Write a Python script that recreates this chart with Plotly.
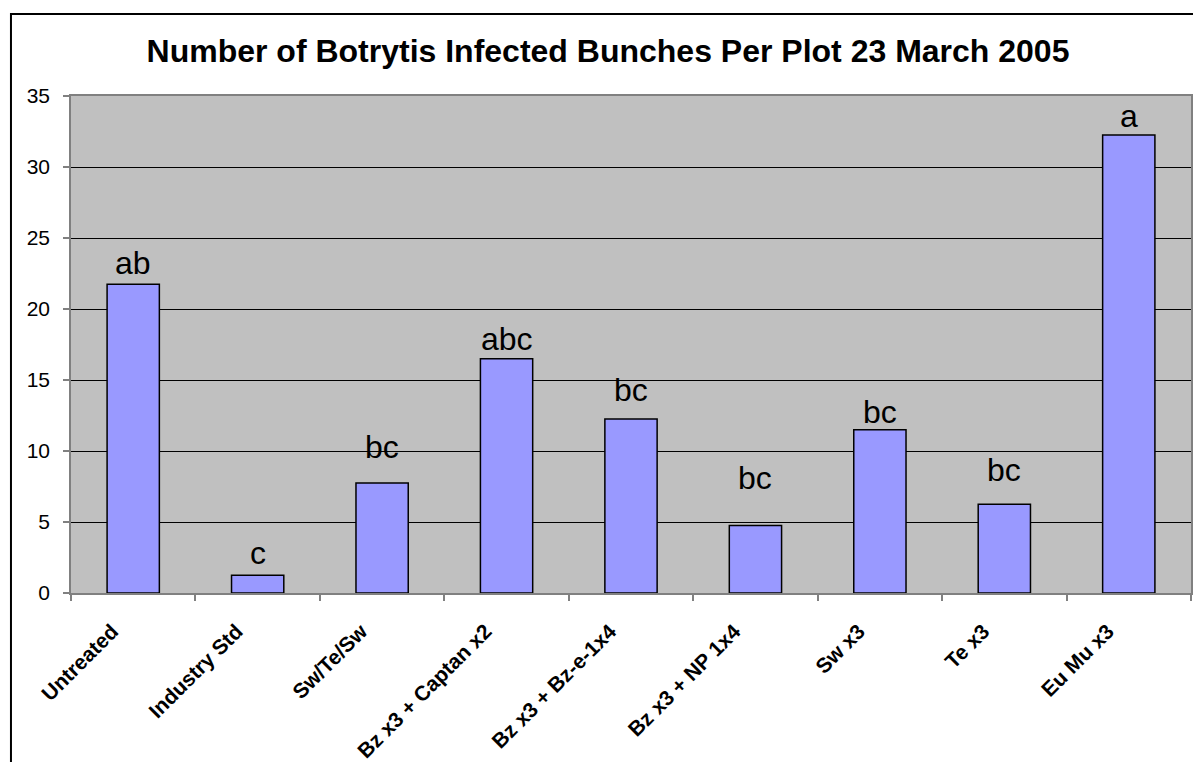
import plotly.graph_objects as go

categories = ["Untreated", "Industry Std", "Sw/Te/Sw", "Bz x3 + Captan x2",
              "Bz x3 + Bz-e-1x4", "Bz x3 + NP 1x4", "Sw x3", "Te x3", "Eu Mu x3"]
infected_bunches = [21.75, 1.25, 7.75, 16.5, 12.25, 4.75, 11.5, 6.25, 32.25]
significance = ["ab", "c", "bc", "abc", "bc", "bc", "bc", "bc", "a"]
label_heights = [22.4, 1.97, 9.44, 17.04, 13.45, 7.25, 11.9, 7.8, 32.75]
y_ticks = [0, 5, 10, 15, 20, 25, 30, 35]

FONT = "Liberation Sans, Arial, sans-serif"

fig = go.Figure()
fig.add_trace(go.Bar(
    x=categories, y=infected_bunches,
    marker=dict(color="#9999FF", line=dict(color="#000000", width=1.5)),
    width=0.42, hoverinfo="x+y",
))

for cat, txt, h in zip(categories, significance, label_heights):
    fig.add_annotation(x=cat, y=h, text=txt, showarrow=False,
                       xref="x", yref="y", yanchor="bottom", yshift=-8,
                       font=dict(family=FONT, size=32, color="#000000"))

# outer chart frame (extends beyond the visible page, as in the reference)
fig.add_shape(type="rect", xref="paper", yref="paper",
              x0=-0.0536, x1=1.02, y0=-0.40, y1=1.165,
              line=dict(color="#000000", width=2), layer="below")

fig.update_layout(
    width=1193, height=762, autosize=False,
    margin=dict(l=71, r=2, t=96, b=169),
    paper_bgcolor="#FFFFFF", plot_bgcolor="#C0C0C0",
    showlegend=False,
    title=dict(text="<b>Number of Botrytis Infected Bunches Per Plot 23 March 2005</b>",
               x=608 / 1193, xanchor="center", y=1 - 51 / 762, yanchor="middle",
               font=dict(family=FONT, size=32, color="#000000")),
    font=dict(family=FONT, color="#000000"),
)
fig.update_xaxes(
    type="category", tickangle=-45, ticks="outside", tickson="boundaries",
    ticklen=6, tickcolor="#808080", tickwidth=1.5, automargin=False,
    showline=True, linecolor="#808080", linewidth=1.5, mirror=True,
    showgrid=False, range=[-0.5, 8.5],
    ticklabelstandoff=16, ticklabelshift=-21,
    tickfont=dict(family=FONT, size=21, color="#000000", weight="bold"),
)
fig.update_yaxes(
    range=[0, 35], tickvals=y_ticks, ticks="outside", ticklen=6,
    tickcolor="#808080", tickwidth=1.5, automargin=False,
    showline=True, linecolor="#808080", linewidth=1.5, mirror=True,
    showgrid=True, gridcolor="#000000", gridwidth=1, zeroline=False,
    ticklabelstandoff=9,
    tickfont=dict(family=FONT, size=21, color="#000000"),
)

fig.write_html(
    "out.html",
    config={"responsive": False, "displayModeBar": False},
    post_script="document.body.style.margin='0';document.body.style.overflow='hidden';",
)
